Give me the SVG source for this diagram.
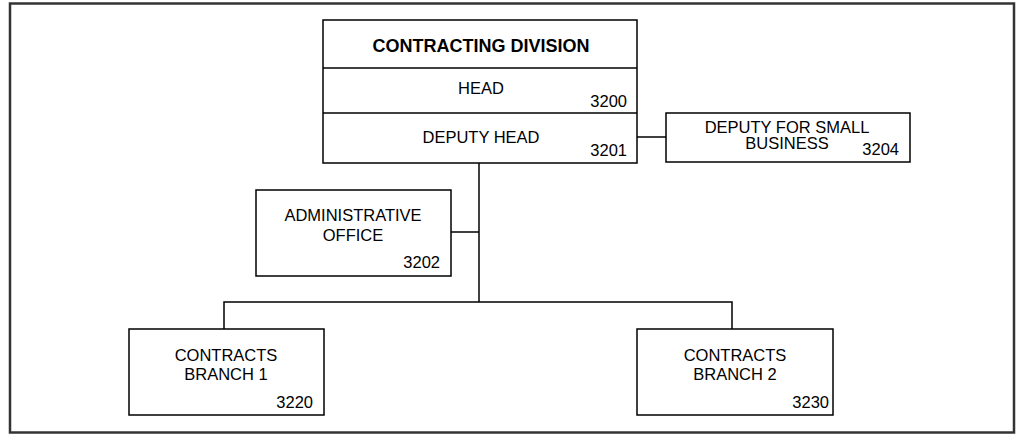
<svg xmlns="http://www.w3.org/2000/svg" width="1020" height="435" viewBox="0 0 1020 435">
<style>
.box{fill:#fff;stroke:#000;stroke-width:1.5}
.t{font-family:"Liberation Sans",Arial,sans-serif;font-size:16.5px;fill:#000}
.c{text-anchor:middle}
.e{text-anchor:end}
.b{font-weight:bold;font-size:18px}
.conn{fill:none;stroke:#000;stroke-width:1.5}
</style>
<rect x="0" y="0" width="1020" height="435" fill="#fff"/>
<rect x="10" y="3.5" width="1004" height="429" fill="none" stroke="#333" stroke-width="2.5"/>
<g id="connectors">
<line class="conn" x1="637" y1="137" x2="666" y2="137"/>
<line class="conn" x1="479" y1="163" x2="479" y2="302"/>
<line class="conn" x1="451" y1="232" x2="479" y2="232"/>
<polyline class="conn" points="224,329 224,302 732,302 732,329"/>
</g>
<g id="division">
<rect class="box" x="323" y="20" width="314" height="143"/>
<line class="conn" x1="323" y1="68" x2="637" y2="68"/>
<line class="conn" x1="323" y1="113" x2="637" y2="113"/>
<text class="t c b" x="481" y="52">CONTRACTING DIVISION</text>
<text class="t c" x="481" y="94">HEAD</text>
<text class="t e" x="627" y="107">3200</text>
<text class="t c" x="481" y="143">DEPUTY HEAD</text>
<text class="t e" x="627" y="156">3201</text>
</g>
<g id="small-business">
<rect class="box" x="666" y="113" width="244" height="49"/>
<text class="t c" x="787" y="133">DEPUTY FOR SMALL</text>
<text class="t c" x="787" y="149">BUSINESS</text>
<text class="t e" x="899" y="155">3204</text>
</g>
<g id="admin">
<rect class="box" x="256" y="190" width="195" height="86"/>
<text class="t c" x="353" y="221">ADMINISTRATIVE</text>
<text class="t c" x="353" y="241">OFFICE</text>
<text class="t e" x="440" y="268">3202</text>
</g>
<g id="branch1">
<rect class="box" x="129" y="329" width="195" height="86"/>
<text class="t c" x="226" y="361">CONTRACTS</text>
<text class="t c" x="226" y="380">BRANCH 1</text>
<text class="t e" x="313" y="408">3220</text>
</g>
<g id="branch2">
<rect class="box" x="637" y="329" width="196" height="86"/>
<text class="t c" x="735" y="361">CONTRACTS</text>
<text class="t c" x="735" y="380">BRANCH 2</text>
<text class="t e" x="829" y="408">3230</text>
</g>
</svg>
